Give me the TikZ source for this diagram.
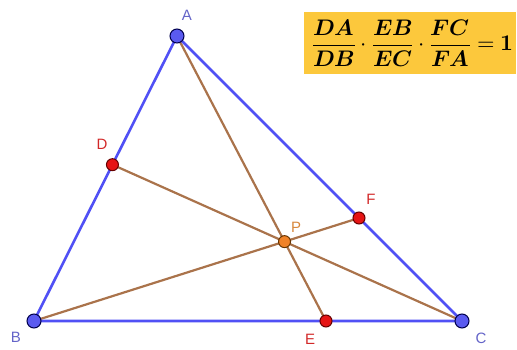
\documentclass[tikz,border=0pt]{standalone}
\usepackage{fontspec}
\setmainfont{Liberation Sans}
\usepackage{amsmath}
\usepackage{unicode-math}
\setmathfont{Latin Modern Math}
\definecolor{triblue}{RGB}{80,80,245}
\definecolor{cevbrown}{RGB}{170,115,75}
\definecolor{vtxblue}{RGB}{90,90,240}
\definecolor{ptred}{RGB}{230,20,20}
\definecolor{ptorange}{RGB}{240,130,40}
\definecolor{lblblue}{RGB}{100,100,200}
\definecolor{lblred}{RGB}{210,40,40}
\definecolor{lblorange}{RGB}{215,135,60}
\definecolor{boxyellow}{RGB}{252,200,60}
\tikzset{
  side/.style={triblue, line width=2.6pt},
  cev/.style={cevbrown, line width=2.2pt},
  vtx/.style={circle, fill=vtxblue, draw=black!70!blue, line width=1pt, minimum size=14pt, inner sep=0pt},
  redpt/.style={circle, fill=ptred, draw=black!60!red, line width=1pt, minimum size=12pt, inner sep=0pt},
  orpt/.style={circle, fill=ptorange, draw=black!60!orange, line width=1pt, minimum size=12pt, inner sep=0pt},
  lbl/.style={font=\fontsize{15}{17}\selectfont, inner sep=0pt}
}
\begin{document}
\begin{tikzpicture}[x=1pt,y=-1pt]
\useasboundingbox (0,0) rectangle (517,350);
\coordinate (A) at (177,36);
\coordinate (B) at (34,321);
\coordinate (C) at (462,321);
\coordinate (E) at (326,321);
\coordinate (F) at (359,218);
\coordinate (P) at (intersection of A--E and B--F);
\coordinate (D) at (intersection of C--P and A--B);
% formula box
\node[fill=boxyellow, minimum width=212pt, minimum height=62pt, inner sep=0pt] (box) at (410,43) {};
\node[inner sep=0pt] (formula) at (413,43) {\fontsize{22.5}{27}\selectfont$\symbf{\dfrac{\symbfit{DA}}{\symbfit{DB}}\cdot\dfrac{\symbfit{EB}}{\symbfit{EC}}\cdot\dfrac{\symbfit{FC}}{\symbfit{FA}}=1}$};
% cevians
\draw[cev] (A) -- (E);
\draw[cev] (B) -- (F);
\draw[cev] (C) -- (D);
% triangle
\draw[side] (A) -- (B) -- (C) -- cycle;
% points
\node[vtx] (nA) at (A) {};
\node[vtx] (nB) at (B) {};
\node[vtx] (nC) at (C) {};
\node[redpt] (nD) at (D) {};
\node[redpt] (nE) at (E) {};
\node[redpt] (nF) at (F) {};
\node[orpt] (nP) at (P) {};
% labels
\node[lbl, text=lblblue] (lA) at (187,15) {A};
\node[lbl, text=lblblue] (lB) at (16,337) {B};
\node[lbl, text=lblblue] (lC) at (481,338) {C};
\node[lbl, text=lblred] (lD) at (102,144) {D};
\node[lbl, text=lblred] (lE) at (310,339) {E};
\node[lbl, text=lblred] (lF) at (371,199) {F};
\node[lbl, text=lblorange] (lP) at (296,227) {P};
\end{tikzpicture}
\end{document}
